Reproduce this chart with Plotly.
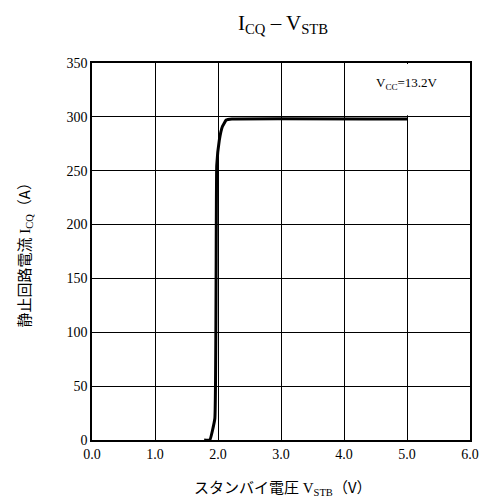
import plotly.graph_objects as go

# data
v_stb = [1.78, 1.87, 1.95, 1.98, 2.02, 2.07, 2.13, 2.22, 5.0]
i_cq = [0, 0, 20, 255, 278, 291, 297, 298, 298]
x_ticks = [0, 1, 2, 3, 4, 5, 6]
x_tick_labels = ["0.0", "1.0", "2.0", "3.0", "4.0", "5.0", "6.0"]
y_ticks = [0, 50, 100, 150, 200, 250, 300, 350]

serif = "Times New Roman"
jp = "Noto Sans CJK JP"

def jpspan(t):
    return f"<span style='font-family:{jp}'>{t}</span>"

fig = go.Figure()
fig.add_trace(go.Scatter(x=v_stb, y=i_cq, mode="lines",
                         line=dict(color="black", width=3, shape="spline", smoothing=0.3),
                         showlegend=False, hoverinfo="skip"))

fig.add_shape(type="rect", xref="x", yref="y", x0=4.03, x1=5.98, y0=301.5, y1=349,
              fillcolor="white", line=dict(width=0), layer="above")
fig.add_annotation(x=5.0, y=331, xref="x", yref="y", showarrow=False,
                   text="V<sub>CC</sub>=13.2V", font=dict(family=serif, size=13, color="black"))

fig.add_annotation(x=0.5, y=1, xref="paper", yref="paper", yshift=24, xshift=2,
                   showarrow=False, yanchor="bottom",
                   text="I<sub>CQ</sub> – V<sub>STB</sub>",
                   font=dict(family=serif, size=21, color="black"))

# axis titles
fig.add_annotation(x=0.5, y=0, xref="paper", yref="paper", yshift=-34, xshift=2,
                   showarrow=False, yanchor="top",
                   text=jpspan("スタンバイ電圧") + " V<sub>STB</sub>" + jpspan("（V）"),
                   font=dict(family=serif, size=15, color="#000000"))
fig.add_annotation(x=0, y=0.5, xref="paper", yref="paper", xshift=-56, yshift=0,
                   showarrow=False, xanchor="right", textangle=-90,
                   text=jpspan("静止回路電流") + " I<sub>CQ</sub>" + jpspan("（A）"),
                   font=dict(family=serif, size=15, color="#000000"))

fig.update_layout(
    width=486, height=503,
    margin=dict(l=92, r=16, t=63, b=63, autoexpand=False),
    paper_bgcolor="white", plot_bgcolor="white",
    font=dict(family=serif, size=13, color="black"),
    xaxis=dict(range=[0, 6], tickvals=x_ticks, ticktext=x_tick_labels,
               showgrid=True, gridcolor="black", gridwidth=1,
               showline=True, linecolor="black", linewidth=1.5, mirror=True,
               zeroline=False, ticks="", tickfont=dict(family=serif, size=14, color="black"),
               automargin=False),
    yaxis=dict(range=[0, 350], tickvals=y_ticks,
               showgrid=True, gridcolor="black", gridwidth=1,
               showline=True, linecolor="black", linewidth=1.5, mirror=True,
               zeroline=False, ticks="", tickfont=dict(family=serif, size=14, color="black"),
               automargin=False),
)

fig.write_html("out.html")
